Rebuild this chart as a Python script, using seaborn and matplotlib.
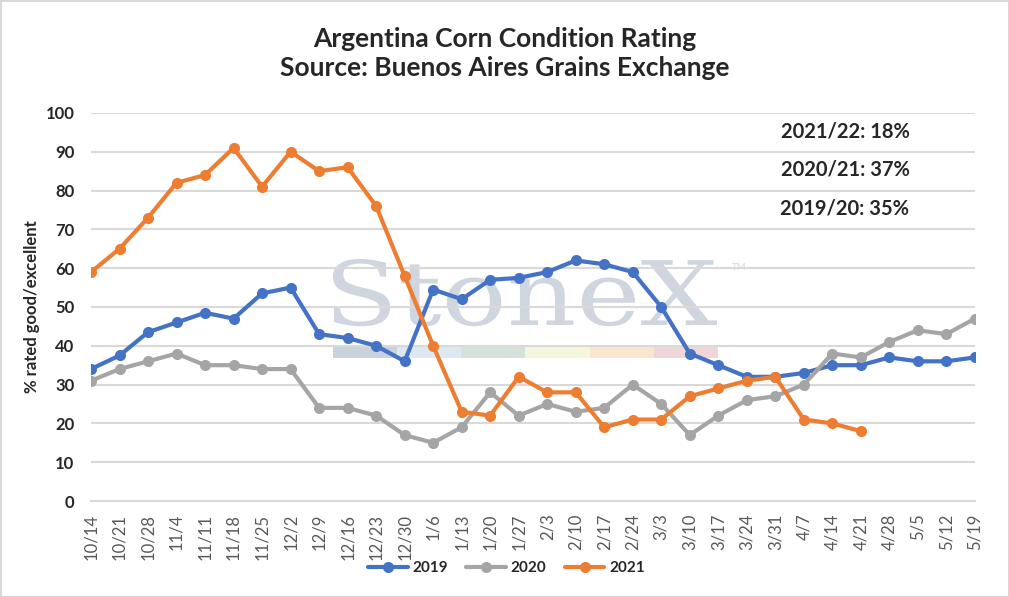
import numpy as np
import pandas as pd
import matplotlib
matplotlib.use('Agg')
import matplotlib.pyplot as plt
import seaborn as sns
from matplotlib.patches import Rectangle, PathPatch
from matplotlib.textpath import TextPath
from matplotlib.font_manager import FontProperties
from matplotlib.transforms import Affine2D, IdentityTransform

# week labels (x axis)
weeks = ['10/14', '10/21', '10/28', '11/4', '11/11', '11/18', '11/25', '12/2',
         '12/9', '12/16', '12/23', '12/30', '1/6', '1/13', '1/20', '1/27',
         '2/3', '2/10', '2/17', '2/24', '3/3', '3/10', '3/17', '3/24',
         '3/31', '4/7', '4/14', '4/21', '4/28', '5/5', '5/12', '5/19']

# % rated good/excellent
rating_2019 = [34, 37.5, 43.5, 46, 48.5, 47, 53.5, 55, 43, 42, 40, 36, 54.5, 52, 57, 57.5,
               59, 62, 61, 59, 50, 38, 35, 32, 32, 33, 35, 35, 37, 36, 36, 37]
rating_2020 = [31, 34, 36, 38, 35, 35, 34, 34, 24, 24, 22, 17, 15, 19, 28, 22,
               25, 23, 24, 30, 25, 17, 22, 26, 27, 30, 38, 37, 41, 44, 43, 47]
rating_2021 = [59, 65, 73, 82, 84, 91, 81, 90, 85, 86, 76, 58, 40, 23, 22, 32,
               28, 28, 19, 21, 21, 27, 29, 31, 32, 21, 20, 18]

notes = ['2021/22: 18%', '2020/21: 37%', '2019/20: 35%']

rows = []
for year, vals in [('2019', rating_2019), ('2020', rating_2020), ('2021', rating_2021)]:
    for i, v in enumerate(vals):
        rows.append({'pos': i, 'week': weeks[i], 'year': year, 'rating': v})
df = pd.DataFrame(rows)

sns.set_style('white')
plt.rcParams['font.family'] = ['Lato', 'DejaVu Sans']

fig = plt.figure(figsize=(10.09, 5.97), dpi=100, edgecolor='#d9d9d9', linewidth=2)
ax = fig.add_axes([0.0902, 0.1608, 0.876, 0.650])

# watermark (stretched serif logo text, in pixels)
tp = TextPath((0, 0), 'StoneX', size=1, prop=FontProperties(family='DejaVu Serif'))
ext = tp.get_extents()
sx = 384 / ext.width
sy = 65 / 0.73
wm = Affine2D().translate(-ext.x0, 0).scale(sx, sy).translate(333, 597 - 325)
ax.add_patch(PathPatch(wm.transform_path(tp), transform=IdentityTransform(),
                       facecolor='#cfd6df', edgecolor='none', zorder=0))
ax.text(0.725, 0.595, 'TM', transform=ax.transAxes, fontsize=7, color='#d4dae2', zorder=0)
bar_cols = ['#c9d3de', '#dde8f2', '#d4e2da', '#f6f5dd', '#fae5cf', '#f0d6d9']
for k, c in enumerate(bar_cols):
    ax.add_patch(Rectangle((0.274 + k * 0.0725, 0.369), 0.0725, 0.028, transform=ax.transAxes,
                           facecolor=c, edgecolor='none', zorder=0))

ax.grid(axis='y', color='#d9d9d9', linewidth=1.5, zorder=1)
ax.set_axisbelow(True)

palette = {'2019': '#4472c4', '2020': '#a5a5a5', '2021': '#ed7d31'}
sns.lineplot(data=df, x='pos', y='rating', hue='year', palette=palette, marker='o',
             markersize=8, markeredgewidth=0, linewidth=3, ax=ax, zorder=3)

ax.set_xlim(0, len(weeks) - 1)
ax.set_ylim(0, 100)
ax.set_yticks(range(0, 101, 10))
ax.set_xticks(range(len(weeks)))
ax.set_xticklabels(weeks, rotation=90, color='#595959', fontsize=12)
ax.tick_params(axis='x', length=0, pad=9)
ax.tick_params(axis='y', length=0, pad=12, labelsize=12)
for t in ax.get_yticklabels():
    t.set_fontweight('bold')
for s in ['top', 'right', 'left']:
    ax.spines[s].set_visible(False)
ax.spines['bottom'].set_color('#d9d9d9')
ax.spines['bottom'].set_linewidth(1.5)

ax.set_xlabel('')
ax.set_ylabel('% rated good/excellent', fontsize=12, fontweight='bold', labelpad=4)

for j, n in enumerate(notes):
    ax.text(0.853, 0.951 - j * 0.098, n, transform=ax.transAxes, fontsize=14.5,
            fontweight='bold', ha='center', va='center')

fig.text(0.5, 0.91, 'Argentina Corn Condition Rating\nSource: Buenos Aires Grains Exchange',
         ha='center', va='center', fontsize=19, fontweight='bold', linespacing=1.25)

ax.legend(loc='upper center', bbox_to_anchor=(0.47, -0.12), ncol=3, frameon=False,
          prop={'weight': 'bold', 'size': 11}, handlelength=2.6, columnspacing=1.2,
          handletextpad=0.3)

fig.savefig('out.png', dpi=100, edgecolor=fig.get_edgecolor())
